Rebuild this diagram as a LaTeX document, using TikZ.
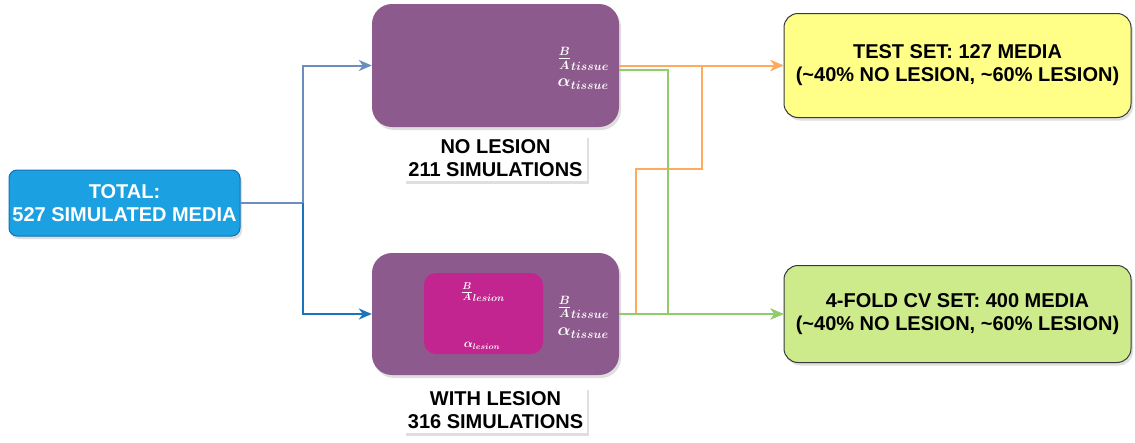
\documentclass[tikz,border=0pt]{standalone}
\usepackage{fontspec}
\setmainfont{Liberation Sans}
\usetikzlibrary{arrows.meta, positioning, shadows}

\definecolor{totalfill}{HTML}{1BA1E2}
\definecolor{totaldraw}{HTML}{1071B5}
\definecolor{simfill}{HTML}{8C5A8C}
\definecolor{lesionfill}{HTML}{C22490}
\definecolor{testfill}{HTML}{FFFF88}
\definecolor{cvfill}{HTML}{CDEB8B}
\definecolor{setdraw}{HTML}{36393D}
\definecolor{splitblue}{HTML}{6C8EBF}
\definecolor{splitdark}{HTML}{1A75BC}
\definecolor{testline}{HTML}{FFAA5E}
\definecolor{cvline}{HTML}{8FCC6C}

\begin{document}
\begin{tikzpicture}[
            x = 1pt, y = -1pt, % one unit per pixel, y grows downwards
            > = {Stealth[length=13pt, width=11pt, inset=4pt]}, % arrow head style
            node distance = 10pt
        ]

        \tikzstyle{box}=[
            align = center,
            font = \fontsize{20}{23}\selectfont\bfseries,
            drop shadow = {opacity = 0.25, shadow xshift = 2pt, shadow yshift = -3pt}
        ]
        \tikzstyle{simbox}=[
            box,
            fill = simfill,
            rounded corners = 20pt,
            minimum width = 247pt
        ]
        \tikzstyle{setbox}=[
            box,
            draw = setdraw,
            line width = 1pt,
            rounded corners = 14pt,
            minimum width = 347pt
        ]
        \tikzstyle{caption}=[
            box,
            fill = white,
            inner sep = 4pt
        ]
        \tikzstyle{param}=[
            text = white,
            align = left,
            inner sep = 0pt,
            font = \fontsize{18}{20}\selectfont\boldmath
        ]
        \tikzstyle{link}=[
            line width = 2pt
        ]

        \useasboundingbox (0,0) rectangle (1135,442);

	% source and the two groups of simulations
	\node[box, fill=totalfill, draw=totaldraw, line width=1pt, text=white,
	      rounded corners=8pt, minimum width=231pt, minimum height=66pt]
	      (total) at (124.5,203) {TOTAL:\\527 SIMULATED MEDIA};
	\node[simbox, minimum height=123pt] (nolesion) at (495.5,65.5) {};
	\node[simbox, minimum height=122pt] (lesion) at (495.5,314) {};
	\node[caption, below=8pt of nolesion] (nolesioncap) {NO LESION\\211 SIMULATIONS};
	\node[caption, below=12pt of lesion] (lesioncap) {WITH LESION\\316 SIMULATIONS};

	% parameters inside the groups
	\node[param, anchor=east] (notissue) at ([xshift=-10pt, yshift=-3pt]nolesion.east)
	      {$\frac{B}{A}_{tissue}$\\[4pt]$\alpha_{tissue}$};
	\node[fill=lesionfill, rounded corners=12pt, minimum width=119pt, minimum height=81pt]
	      (lesionpart) at (483.5,313.5) {};
	\node[param, anchor=east] (lesiontissue) at ([xshift=-10pt, yshift=-3pt]lesion.east)
	      {$\frac{B}{A}_{tissue}$\\[4pt]$\alpha_{tissue}$};
	\node[param, font=\fontsize{14}{16}\selectfont\boldmath] (ratiolesion) at (483,292) {$\frac{B}{A}_{lesion}$};
	\node[param, font=\fontsize{12}{14}\selectfont\boldmath] (alphalesion) at (482,346) {$\alpha_{lesion}$};

	% the two sets
	\node[setbox, fill=testfill, minimum height=104pt] (test) at (957.5,65.5)
	      {TEST SET: 127 MEDIA\\(\textasciitilde 40\% NO LESION, \textasciitilde 60\% LESION)};
	\node[setbox, fill=cvfill, minimum height=97pt] (cv) at (957.5,314)
	      {4-FOLD CV SET: 400 MEDIA\\(\textasciitilde 40\% NO LESION, \textasciitilde 60\% LESION)};

	\coordinate (split) at (303,203);
	\coordinate (olow) at (636,169);
	\coordinate (ohigh) at (702,169);
	\coordinate (gcol) at (668,200);

        \draw[link, draw=splitblue] (total.east) -- (split);
        \draw[link, draw=splitblue, ->] (split) |- (nolesion.west);
        \draw[link, draw=splitdark, ->] (split) |- (lesion.west);

        \draw[link, draw=testline, ->] (nolesion.east) -- (test.west);
        \draw[link, draw=testline, ->] (lesion.east) -| (olow) -- (ohigh) |- (test.west);
        \draw[link, draw=cvline, ->] ([yshift=-4pt]nolesion.east) -| (gcol) |- (cv.west);
        \draw[link, draw=cvline, ->] (lesion.east) -- (cv.west);

    \end{tikzpicture}
\end{document}
